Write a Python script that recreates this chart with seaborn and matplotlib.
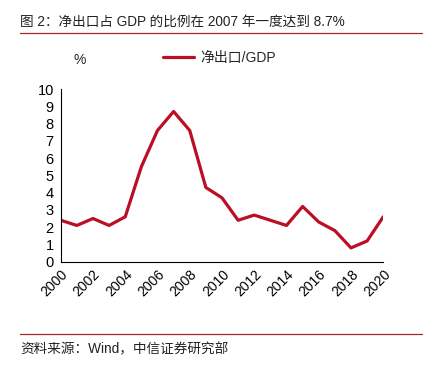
import matplotlib
matplotlib.use("Agg")
import matplotlib.pyplot as plt
import seaborn as sns
import pandas as pd
from matplotlib.lines import Line2D

years = list(range(2000, 2021))
net_export_ratio = [2.4, 2.1, 2.5, 2.1, 2.6, 5.5, 7.6, 8.7, 7.6, 4.3, 3.7,
                    2.4, 2.7, 2.4, 2.1, 3.2, 2.3, 1.8, 0.8, 1.2, 2.6]
series_name = "净出口/GDP"
title_text = "图 2：净出口占 GDP 的比例在 2007 年一度达到 8.7%"
source_text = "资料来源：Wind，中信证券研究部"
x_ticks = list(range(2000, 2021, 2))
y_ticks = list(range(0, 11))

sns.set_theme(style="white")
plt.rcParams['font.family'] = ['Liberation Sans', 'Noto Sans CJK SC', 'DejaVu Sans']

line_color = "#BA0F24"
rule_color = "#A52A2A"

df = pd.DataFrame({"year": years, "value": net_export_ratio})

fig = plt.figure(figsize=(4.4, 3.71), dpi=100)
ax = fig.add_axes([0.138, 0.2946, 0.733, 0.4654])
sns.lineplot(data=df, x="year", y="value", ax=ax, color=line_color,
             linewidth=2.3, legend=False)

ax.set_xlim(2000, 2020)
ax.set_ylim(0, 10)
ax.set_xticks(x_ticks)
ax.set_yticks(y_ticks)
ax.set_xticklabels([str(t) for t in x_ticks], rotation=45, ha="right",
                   rotation_mode="anchor", fontsize=10)
ax.set_yticklabels([str(t) for t in y_ticks], fontsize=10.5)
ax.set_xlabel("")
ax.set_ylabel("")
for s in ["top", "right"]:
    ax.spines[s].set_visible(False)
for s in ["left", "bottom"]:
    ax.spines[s].set_color("black")
    ax.spines[s].set_linewidth(0.8)
ax.tick_params(axis="both", direction="out", length=3, width=0.8,
               color="black", labelcolor="black", pad=2)
ax.tick_params(axis="x", pad=1)

# Title and rules
fig.text(20/440, 1 - 22/371, title_text, fontsize=9.8, ha="left", va="center",
         color="#222222")
fig.add_artist(Line2D([20/440, 422/440], [1 - 33/371, 1 - 33/371],
                      color=rule_color, linewidth=0.9))
fig.add_artist(Line2D([20/440, 422/440], [1 - 334/371, 1 - 334/371],
                      color=rule_color, linewidth=0.9))
fig.text(20/440, 1 - 349/371, source_text, fontsize=9.8, ha="left",
         va="center", color="#222222")

# Unit label and legend
fig.text(80/440, 1 - 60/371, "%", fontsize=10, ha="center", va="center")
handle = Line2D([], [], color=line_color, linewidth=2.3)
fig.legend([handle], [series_name], loc="center left",
           bbox_to_anchor=(150/440, 1 - 58/371), frameon=False,
           fontsize=10, handlelength=2.3, handletextpad=0.4)

fig.savefig("out.png", dpi=100)
